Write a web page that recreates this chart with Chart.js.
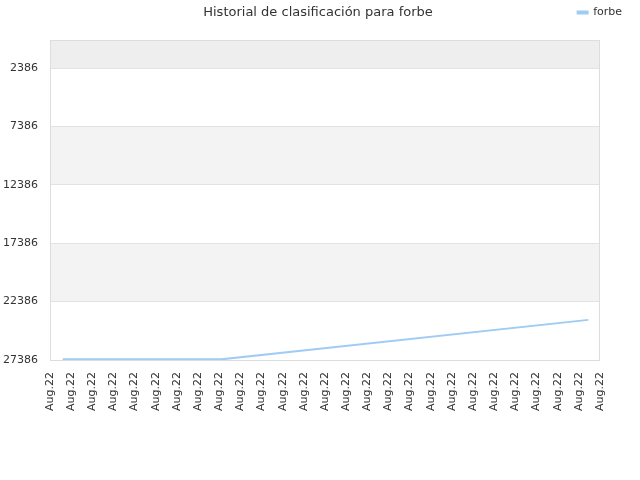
<!DOCTYPE html>
<html>
<head>
<meta charset="utf-8">
<script src="https://cdn.jsdelivr.net/npm/chart.js@4.4.0/dist/chart.umd.min.js"></script>
<style>
html,body{margin:0;padding:0;background:#fff;}
#wrap{width:640px;height:480px;}
</style>
</head>
<body>
<div id="wrap"><canvas id="c" width="640" height="480"></canvas></div>
<script>
const titleText = "Historial de clasificación para forbe";
const seriesName = "forbe";
const xLabels = ["Aug.22","Aug.22","Aug.22","Aug.22","Aug.22","Aug.22","Aug.22","Aug.22","Aug.22","Aug.22","Aug.22","Aug.22","Aug.22","Aug.22","Aug.22","Aug.22","Aug.22","Aug.22","Aug.22","Aug.22","Aug.22","Aug.22","Aug.22","Aug.22","Aug.22","Aug.22","Aug.22"];
const pointX = [0.6, 8.1, 25.45];
const pointRank = [27330, 27330, 23950];
const yTicks = [2386, 7386, 12386, 17386, 22386, 27386];
const yMin = -14;
const yMax = 27386;

const bandPlugin = {
  id: 'bands',
  beforeDraw(chart) {
    const {ctx, chartArea: a, scales: {y}} = chart;
    ctx.save();
    const edges = [yMin].concat(yTicks);
    for (let i = 0; i < edges.length - 1; i++) {
      const y1 = y.getPixelForValue(edges[i]);
      const y2 = y.getPixelForValue(edges[i + 1]);
      if (i === 0) ctx.fillStyle = '#eeeeee';
      else if (i % 2 === 0) ctx.fillStyle = '#f3f3f3';
      else ctx.fillStyle = '#ffffff';
      ctx.fillRect(a.left, Math.min(y1, y2), a.right - a.left, Math.abs(y2 - y1));
    }
    ctx.restore();
  },
  afterDatasetsDraw(chart) {
    const {ctx, chartArea: a} = chart;
    ctx.save();
    ctx.strokeStyle = '#dddddd';
    ctx.lineWidth = 1;
    ctx.strokeRect(a.left + 0.5, a.top + 0.5, a.right - a.left - 1, a.bottom - a.top);
    ctx.restore();
  },
  afterDraw(chart) {
    const {ctx} = chart;
    ctx.save();
    ctx.font = '13px "DejaVu Sans"';
    ctx.fillStyle = '#333333';
    ctx.textAlign = 'center';
    ctx.textBaseline = 'middle';
    ctx.fillText(titleText, 318, 13);
    ctx.restore();
  }
};

new Chart(document.getElementById('c'), {
  type: 'line',
  data: {
    datasets: [{
      label: seriesName,
      data: pointX.map((x, i) => ({x: x, y: pointRank[i]})),
      borderColor: '#9fcbf5',
      backgroundColor: '#9fcbf5',
      borderWidth: 2,
      pointRadius: 0,
      tension: 0,
      fill: false
    }]
  },
  options: {
    responsive: false,
    animation: false,
    layout: {padding: {left: 0, right: 11, top: 0, bottom: 0}},
    plugins: {
      title: {display: false},
      tooltip: {enabled: false},
      legend: {
        display: true,
        position: 'top',
        align: 'end',
        labels: {
          boxWidth: 10,
          boxHeight: 2,
          color: '#333',
          font: {family: 'DejaVu Sans', size: 11},
          padding: 7
        }
      }
    },
    scales: {
      x: {
        type: 'linear',
        min: 0,
        max: 26,
        grid: {display: false},
        border: {display: false},
        afterBuildTicks(scale) {
          scale.ticks = xLabels.map((_, i) => ({value: i}));
        },
        ticks: {
          autoSkip: false,
          maxRotation: 90,
          minRotation: 90,
          color: '#333',
          font: {family: 'DejaVu Sans', size: 11},
          padding: 4,
          callback: (v, i) => xLabels[i]
        },
        afterFit(scale) { scale.height = 120; }
      },
      xTop: {
        type: 'linear',
        position: 'top',
        display: true,
        grid: {display: false},
        border: {display: false},
        ticks: {display: false},
        afterFit(scale) { scale.height = 12; }
      },
      y: {
        type: 'linear',
        reverse: true,
        min: yMin,
        max: yMax,
        afterBuildTicks(scale) {
          scale.ticks = yTicks.map(v => ({value: v}));
        },
        grid: {color: '#e2e2e2', drawTicks: false},
        border: {display: false},
        ticks: {
          color: '#333',
          font: {family: 'DejaVu Sans', size: 11},
          padding: 12,
          callback: v => String(v)
        },
        afterFit(scale) { scale.width = 50; }
      },
      yRight: {
        type: 'linear',
        position: 'right',
        display: true,
        grid: {display: false},
        border: {display: false},
        ticks: {display: false},
        afterFit(scale) { scale.width = 29; }
      }
    }
  },
  plugins: [bandPlugin]
});
</script>
</body>
</html>
